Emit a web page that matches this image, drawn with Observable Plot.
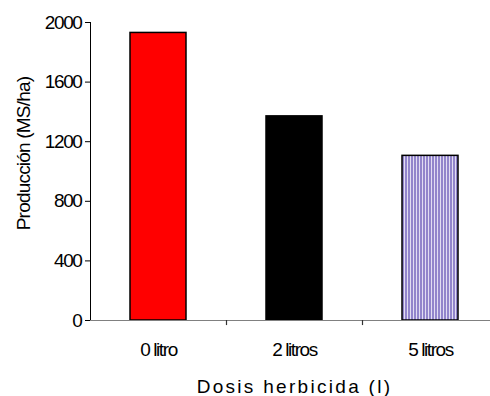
<!DOCTYPE html>
<html><head><meta charset="utf-8">
<script src="https://cdn.jsdelivr.net/npm/d3@7"></script>
<script src="https://cdn.jsdelivr.net/npm/@observablehq/plot@0.6"></script>
<style>
body{margin:0;background:#fff}
#chart svg{font-family:"Liberation Sans",Arial,sans-serif}
</style></head><body><div id="chart"></div>
<script>
const categories = ["0 litro", "2 litros", "5 litros"];
const values = [1930, 1370, 1105];
const fills = ["#ff0000", "#000000", "url(#stripes)"];
const yTicks = [0, 400, 800, 1200, 1600, 2000];
const xTitle = "Dosis herbicida (l)";
const yTitle = "Producción (MS/ha)";

const data = categories.map((c, i) => ({dosis: c, prod: values[i], fill: fills[i]}));

const plot = Plot.plot({
  width: 490, height: 396,
  marginLeft: 90, marginRight: -8, marginTop: 22, marginBottom: 76,
  style: {fontSize: "19px", color: "#000", background: "#fff", overflow: "hidden"},
  x: {domain: categories, paddingInner: 0.59, paddingOuter: 0.295, tickSize: 0, tickPadding: 22,
      label: xTitle, labelAnchor: "center", labelOffset: 72},
  y: {domain: [0, 2000], ticks: yTicks, tickFormat: d => String(d), tickSize: 5, tickPadding: 4,
      line: true, label: null},
  color: {type: "identity"},
  marks: [
    Plot.barY(data, {x: "dosis", y: "prod", fill: "fill", stroke: "#000", strokeWidth: 1.5}),
    Plot.ruleY([0], {stroke: "#808080", strokeWidth: 1.2}),
    Plot.ruleX(categories.slice(0, 2), {x: d => d, dx: 68, y1: 0, y2: -34, stroke: "#333", strokeWidth: 1.2}),
    Plot.text([yTitle], {text: d => d, frameAnchor: "left", textAnchor: "middle", dx: -67, dy: -18, rotate: -90, fontSize: 19, fill: "#000"})
  ]
});

document.getElementById("chart").appendChild(plot);
const svg = d3.select(plot.tagName.toLowerCase() === "svg" ? plot : plot.querySelector("svg"));
const defs = svg.insert("defs", ":first-child");
const pat = defs.append("pattern").attr("id", "stripes").attr("patternUnits", "userSpaceOnUse")
  .attr("width", 3).attr("height", 4);
pat.append("rect").attr("width", 3).attr("height", 4).attr("fill", "#e2ddf2");
pat.append("rect").attr("width", 2).attr("height", 4).attr("fill", "#9285cb");
svg.selectAll('[aria-label="x-axis label"]').style("letter-spacing", "2.3px");
svg.selectAll('[aria-label="x-axis tick label"], [aria-label="y-axis tick label"]').style("letter-spacing", "-1.4px");
svg.selectAll('[aria-label="text"]').style("letter-spacing", "-0.8px");
</script>
</body></html>
